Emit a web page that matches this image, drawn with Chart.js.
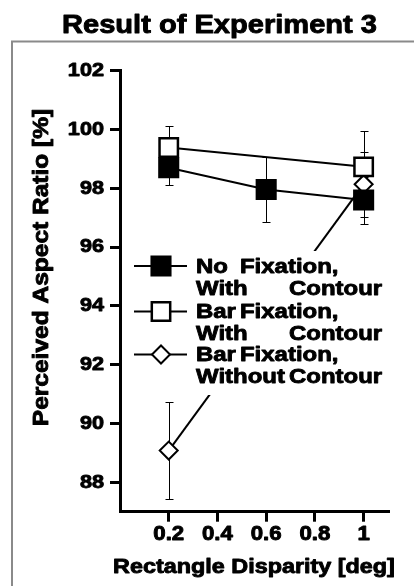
<!DOCTYPE html>
<html>
<head>
<meta charset="utf-8">
<title>Result of Experiment 3</title>
<script src="https://cdn.jsdelivr.net/npm/chart.js@4.4.0/dist/chart.umd.min.js"></script>
<style>
  html, body { margin: 0; padding: 0; background: #fff; }
  #wrap { width: 414px; height: 586px; }
</style>
</head>
<body>
<div id="wrap"><canvas id="chart" width="414" height="586"></canvas></div>
<script>
// rectangle disparity [deg] / perceived aspect ratio [%] / error (+-)
const xNoFix = [0.2, 0.6, 1];
const yNoFix = [98.7, 97.96, 97.6];
const errNoFix = [0.6, 1.1, 0.8];

const xBarFix = [0.2, 1];
const yBarFix = [99.39, 98.73];
const errBarFix = [0.73, 1.22];

const xNoContour = [0.2, 1];
const yNoContour = [89.08, 98.14];
const errNoContour = [1.65, 1.1];

const xTicks = [0.2, 0.4, 0.6, 0.8, 1];
const yTicks = [88, 90, 92, 94, 96, 98, 100, 102];

const chartTitle = 'Result of Experiment 3';
const xTitle = 'Rectangle Disparity [deg]';
const yTitle = 'Perceived Aspect Ratio [%]';

// legend text, two lines per entry, two columns per line
const legendText = [
  [['No', 'Fixation,'], ['With', 'Contour']],
  [['Bar', 'Fixation,'], ['With', 'Contour']],
  [['Bar', 'Fixation,'], ['Without', 'Contour']]
];

const FONT = 'Liberation Sans';
// the original lettering is a wide, heavy helvetica: stretch sideways + thin outline
const TEXT_STRETCH = 1.14;
const TEXT_WEIGHT = 0.9;

function pts(xs, ys) {
  return xs.map((x, i) => ({ x: x, y: ys[i] }));
}

// grey frame (left + top only visible)
const frame = {
  id: 'frame',
  beforeDraw(chart) {
    const ctx = chart.ctx;
    ctx.save();
    ctx.strokeStyle = '#8a8a8a';
    ctx.lineWidth = 2;
    ctx.beginPath();
    ctx.moveTo(12, 586);
    ctx.lineTo(12, 41.5);
    ctx.lineTo(414, 41.5);
    ctx.stroke();
    ctx.restore();
  }
};

// error bars behind the markers
const errorBars = {
  id: 'errorBars',
  beforeDatasetsDraw(chart) {
    const ctx = chart.ctx;
    const xs = chart.scales.x, ys = chart.scales.y;
    ctx.save();
    ctx.strokeStyle = '#000';
    ctx.lineWidth = 1;
    chart.data.datasets.forEach(ds => {
      ds.data.forEach((p, i) => {
        const px = Math.round(xs.getPixelForValue(p.x)) + 0.5;
        const top = Math.round(ys.getPixelForValue(p.y + ds.err[i])) + 0.5;
        const bot = Math.round(ys.getPixelForValue(p.y - ds.err[i])) + 0.5;
        ctx.beginPath();
        ctx.moveTo(px, top); ctx.lineTo(px, bot);
        ctx.moveTo(px - 4, top); ctx.lineTo(px + 4, top);
        ctx.moveTo(px - 4, bot); ctx.lineTo(px + 4, bot);
        ctx.stroke();
      });
    });
    ctx.restore();
  }
};

// legend box inside the plot, white background hides the line behind it
const boxLegend = {
  id: 'boxLegend',
  afterDatasetsDraw(chart) {
    const ctx = chart.ctx;
    const rowY = [266, 311.5, 354.5];
    ctx.save();
    ctx.fillStyle = '#fff';
    ctx.fillRect(128, 251, 262, 144);
    ctx.font = 'bold 21px "' + FONT + '"';
    ctx.textBaseline = 'middle';
    ctx.textAlign = 'left';
    chart.data.datasets.forEach((ds, i) => {
      const y = rowY[i];
      ctx.strokeStyle = '#000';
      ctx.lineWidth = 2;
      ctx.beginPath();
      ctx.moveTo(134, y);
      ctx.lineTo(187, y);
      ctx.stroke();
      ctx.fillStyle = ds.pointBackgroundColor;
      ctx.strokeStyle = ds.pointBorderColor;
      ctx.lineWidth = ds.pointBorderWidth;
      Chart.helpers.drawPoint(ctx, {
        pointStyle: ds.pointStyle,
        radius: ds.pointRadius,
        borderWidth: ds.pointBorderWidth,
        rotation: 0
      }, 161, y);
      ctx.fillStyle = '#000';
      legendText[i].forEach((line, j) => {
        const ty = y + 1 + j * 22;
        ctx.fillText(line[0], 196, ty);
        ctx.fillText(line[1], j === 0 ? 240 : 289, ty);
      });
    });
    ctx.restore();
  }
};

// y axis title, placed like the original (not centered on the axis)
const yAxisTitle = {
  id: 'yAxisTitle',
  afterDraw(chart) {
    const ctx = chart.ctx;
    ctx.save();
    ctx.translate(42, 267.5);
    ctx.rotate(-Math.PI / 2);
    ctx.font = 'bold 21.5px "' + FONT + '"';
    ctx.fillStyle = '#000';
    ctx.textAlign = 'center';
    ctx.textBaseline = 'middle';
    ctx.fillText(yTitle, 0, 0);
    ctx.restore();
  }
};

const ctx = document.getElementById('chart').getContext('2d');
const rawFillText = ctx.fillText;
// every label goes through here: widen it and give it a little more weight
ctx.fillText = function (text, x, y) {
  this.save();
  this.translate(x, y);
  this.scale(TEXT_STRETCH, 1);
  rawFillText.call(this, text, 0, 0);
  this.strokeStyle = this.fillStyle;
  this.lineWidth = TEXT_WEIGHT;
  this.lineJoin = 'round';
  this.strokeText(text, 0, 0);
  this.restore();
};

new Chart(ctx, {
  type: 'line',
  data: {
    datasets: [
      {
        label: 'No Fixation, With Contour',
        data: pts(xNoFix, yNoFix),
        err: errNoFix,
        borderColor: '#000',
        backgroundColor: '#000',
        borderWidth: 2,
        pointStyle: 'rect',
        pointRadius: 13.5,
        pointBorderWidth: 2,
        pointBackgroundColor: '#000',
        pointBorderColor: '#000'
      },
      {
        label: 'Bar Fixation, With Contour',
        data: pts(xBarFix, yBarFix),
        err: errBarFix,
        borderColor: '#000',
        backgroundColor: '#fff',
        borderWidth: 2,
        pointStyle: 'rect',
        pointRadius: 13,
        pointBorderWidth: 2.5,
        pointBackgroundColor: '#fff',
        pointBorderColor: '#000'
      },
      {
        label: 'Bar Fixation, Without Contour',
        data: pts(xNoContour, yNoContour),
        err: errNoContour,
        borderColor: '#000',
        backgroundColor: '#fff',
        borderWidth: 2,
        pointStyle: 'rectRot',
        pointRadius: 9,
        pointBorderWidth: 2,
        pointBackgroundColor: '#fff',
        pointBorderColor: '#000'
      }
    ]
  },
  options: {
    responsive: false,
    animation: false,
    events: [],
    layout: { padding: { left: 25, right: 0, top: 0, bottom: 0 } },
    plugins: {
      legend: { display: false },
      tooltip: { enabled: false },
      title: {
        display: true,
        text: chartTitle,
        color: '#000',
        font: { family: FONT, size: 25.5, weight: 'bold' },
        padding: { top: 10.5, bottom: 29.6 }
      }
    },
    scales: {
      x: {
        type: 'linear',
        min: 0,
        max: 1.1,
        afterBuildTicks: s => { s.ticks = xTicks.map(v => ({ value: v })); },
        afterFit: s => { s.height = 74.3; },
        border: { display: true, color: '#000', width: 3 },
        grid: { display: true, drawOnChartArea: false, drawTicks: true, tickLength: 10, color: '#000', lineWidth: 3 },
        ticks: {
          color: '#000',
          font: { family: FONT, size: 19.5, weight: 'bold' },
          padding: 1,
          maxRotation: 0,
          autoSkip: false,
          callback: v => String(v)
        },
        title: {
          display: true,
          text: xTitle,
          color: '#000',
          font: { family: FONT, size: 20.5, weight: 'bold' },
          padding: { top: 0, bottom: 6 }
        }
      },
      y: {
        type: 'linear',
        position: 'left',
        min: 87,
        max: 102,
        afterBuildTicks: s => { s.ticks = yTicks.map(v => ({ value: v })); },
        afterFit: s => { s.width = 95; },
        border: { display: true, color: '#000', width: 3 },
        grid: { display: true, drawOnChartArea: false, drawTicks: true, tickLength: 10, color: '#000', lineWidth: 3 },
        ticks: {
          color: '#000',
          font: { family: FONT, size: 19, weight: 'bold' },
          padding: 6,
          callback: v => String(v)
        }
      },
      // empty right box so the plot ends where the original does
      y2: {
        type: 'linear',
        position: 'right',
        display: true,
        afterFit: s => { s.width = 26; },
        border: { display: false },
        grid: { display: false },
        ticks: { display: false }
      }
    }
  },
  plugins: [frame, errorBars, boxLegend, yAxisTitle]
});
</script>
</body>
</html>
